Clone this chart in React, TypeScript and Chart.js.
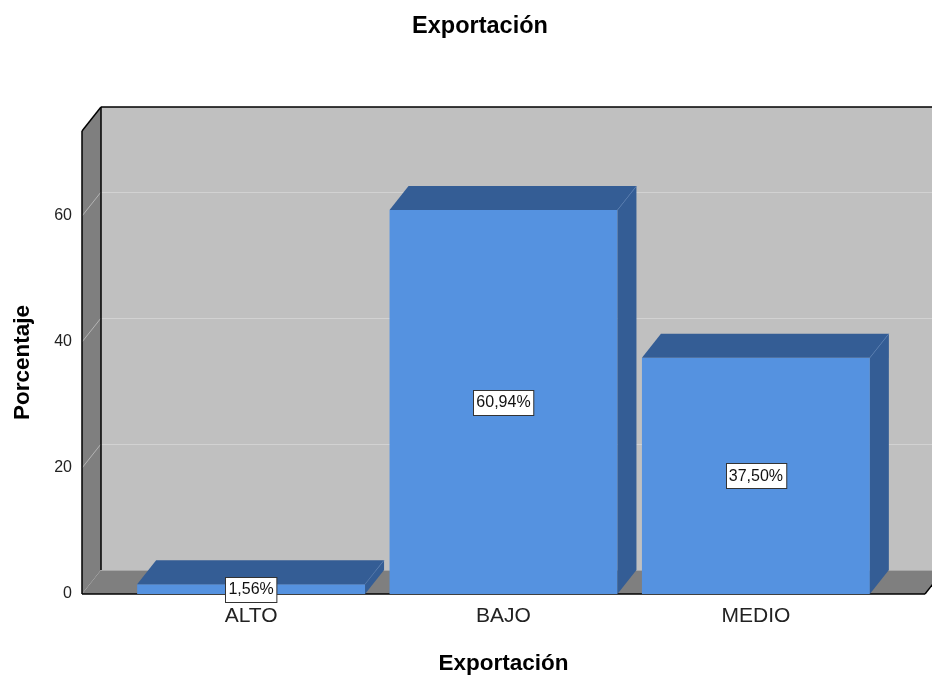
import React, { useEffect, useRef } from 'react';
import { Chart, registerables } from 'chart.js';

Chart.register(...registerables);

// Data
const categories = ['ALTO', 'BAJO', 'MEDIO'];
const percentages = [1.56, 60.94, 37.5];
const yTickValues = [0, 20, 40, 60];
const yMax = 73.5;
const xMin = -0.67;
const xMax = 2.67;

const FONT = '"Liberation Sans", Arial, Helvetica, sans-serif';

// 3D box depth offsets (px)
const DEPTH_X = 19;
const DEPTH_Y = 24;

const COLORS = {
  barFront: '#5592e0',
  barDark: '#345d95',
  backWall: '#c0c0c0',
  sideWall: '#7f7f7f',
  grid: '#d2d2d2',
  sideGrid: '#b4b4b4',
  edge: '#000000',
};

const formatPct = (v: number) => v.toFixed(2).replace('.', ',') + '%';

const line = (ctx: CanvasRenderingContext2D, x1: number, y1: number, x2: number, y2: number) => {
  ctx.beginPath();
  ctx.moveTo(x1, y1);
  ctx.lineTo(x2, y2);
  ctx.stroke();
};

const poly = (ctx: CanvasRenderingContext2D, pts: number[][], fill: string) => {
  ctx.beginPath();
  ctx.moveTo(pts[0][0], pts[0][1]);
  for (let i = 1; i < pts.length; i++) ctx.lineTo(pts[i][0], pts[i][1]);
  ctx.closePath();
  ctx.fillStyle = fill;
  ctx.fill();
};

// Draws the walls and floor behind the bars, then the bars' top/side faces and value labels.
const boxPlugin = {
  id: 'box3d',
  beforeDatasetsDraw(chart: any) {
    const { ctx, chartArea, scales } = chart;
    const { left: L, right: R, top: T, bottom: B } = chartArea;
    const dx = DEPTH_X;
    const dy = DEPTH_Y;
    ctx.save();

    // back wall
    ctx.fillStyle = COLORS.backWall;
    ctx.fillRect(L + dx, T - dy, R - L, B - T);

    // grid lines on back wall
    ctx.lineWidth = 1;
    yTickValues.forEach((v) => {
      if (v === 0) return;
      const py = Math.round(scales.y.getPixelForValue(v)) + 0.5;
      ctx.strokeStyle = COLORS.grid;
      line(ctx, L + dx, py - dy, R + dx, py - dy);
    });

    // side wall with slanted tick marks
    poly(ctx, [[L, T], [L + dx, T - dy], [L + dx, B - dy], [L, B]], COLORS.sideWall);
    yTickValues.forEach((v) => {
      if (v === 0) return;
      const py = scales.y.getPixelForValue(v);
      ctx.strokeStyle = COLORS.sideGrid;
      line(ctx, L, py, L + dx, py - dy);
    });

    // floor
    poly(ctx, [[L, B], [R, B], [R + dx, B - dy], [L + dx, B - dy]], COLORS.sideWall);
    ctx.strokeStyle = '#a8a8a8';
    line(ctx, L + dx, B - dy + 0.5, R + dx, B - dy + 0.5);

    // edges
    ctx.strokeStyle = COLORS.edge;
    ctx.lineWidth = 1.5;
    line(ctx, L + dx, T - dy, R + dx + 2, T - dy);
    line(ctx, L + dx, T - dy, L + dx, B - dy);
    line(ctx, L, T, L + dx, T - dy);
    line(ctx, L, T, L, B);
    line(ctx, L, B, R, B);
    line(ctx, R, B, R + dx, B - dy);
    ctx.restore();
  },
  afterDatasetsDraw(chart: any) {
    const { ctx } = chart;
    const meta = chart.getDatasetMeta(0);
    const dx = DEPTH_X;
    const dy = DEPTH_Y;
    ctx.save();
    meta.data.forEach((bar: any) => {
      const { x, y, base, width } = bar.getProps(['x', 'y', 'base', 'width'], true);
      const l = x - width / 2;
      const r = x + width / 2;
      // top face
      poly(ctx, [[l, y], [l + dx, y - dy], [r + dx, y - dy], [r, y]], COLORS.barDark);
      // right side face
      poly(ctx, [[r, y], [r + dx, y - dy], [r + dx, base - dy], [r, base]], COLORS.barDark);
      ctx.strokeStyle = 'rgba(90,130,185,0.6)';
      ctx.lineWidth = 1;
      line(ctx, r, y, r + dx, y - dy);
    });

    // value labels
    ctx.font = `16px ${FONT}`;
    ctx.textAlign = 'center';
    ctx.textBaseline = 'middle';
    meta.data.forEach((bar: any, i: number) => {
      const { x, y, base } = bar.getProps(['x', 'y', 'base'], true);
      const text = formatPct(percentages[i]);
      const cy = (y + base) / 2;
      const w = ctx.measureText(text).width + 6;
      const h = 25;
      const bx = Math.round(x - w / 2) + 0.5;
      const by = Math.round(cy - h / 2) + 0.5;
      ctx.fillStyle = '#ffffff';
      ctx.fillRect(bx, by, w, h);
      ctx.strokeStyle = '#333333';
      ctx.lineWidth = 1;
      ctx.strokeRect(bx, by, w, h);
      ctx.fillStyle = '#111111';
      ctx.fillText(text, x, cy + 1);
    });
    ctx.restore();
  },
  afterDraw(chart: any) {
    const { ctx } = chart;
    ctx.save();
    ctx.font = `bold 23.5px ${FONT}`;
    ctx.fillStyle = '#000000';
    ctx.textAlign = 'center';
    ctx.textBaseline = 'middle';
    ctx.fillText('Exportación', 480, 27);
    ctx.restore();
  },
};

export default function App() {
  const canvasRef = useRef<HTMLCanvasElement | null>(null);

  useEffect(() => {
    if (!canvasRef.current) return;
    Chart.defaults.font.family = FONT;

    const chart = new Chart(canvasRef.current, {
      type: 'bar',
      data: {
        datasets: [
          {
            label: 'Porcentaje',
            data: categories.map((_, i) => ({ x: i, y: percentages[i] })),
            backgroundColor: COLORS.barFront,
            borderWidth: 0,
            categoryPercentage: 1,
            barPercentage: 0.903,
          },
        ],
      },
      options: {
        responsive: false,
        animation: false,
        devicePixelRatio: 1,
        layout: { padding: { top: 131, right: 7, bottom: 0, left: 0 } },
        plugins: {
          legend: { display: false },
          tooltip: { enabled: false },
          title: { display: false },
        },
        scales: {
          x: {
            type: 'linear',
            min: xMin,
            max: xMax,
            offset: false,
            bounds: 'data',
            afterBuildTicks: (axis: any) => {
              axis.ticks = categories.map((_, i) => ({ value: i }));
            },
            afterFit: (axis: any) => {
              axis.height = 84;
            },
            grid: { display: false, drawTicks: false, offset: false },
            border: { display: false },
            ticks: {
              autoSkip: false,
              maxRotation: 0,
              padding: 10,
              color: '#222222',
              font: { size: 21 },
              callback: (v: any) => categories[v as number] ?? '',
            },
            title: {
              display: true,
              text: 'Exportación',
              color: '#000000',
              font: { size: 22.5, weight: 'bold' },
              padding: { top: 0, bottom: 1 },
            },
          },
          y: {
            min: 0,
            max: yMax,
            afterBuildTicks: (axis: any) => {
              axis.ticks = yTickValues.map((value) => ({ value }));
            },
            afterFit: (axis: any) => {
              axis.width = 82;
            },
            grid: { display: false, drawTicks: false },
            border: { display: false },
            ticks: {
              padding: 10,
              color: '#222222',
              font: { size: 16 },
            },
            title: {
              display: true,
              text: 'Porcentaje',
              color: '#000000',
              font: { size: 22.5, weight: 'bold' },
              padding: { top: 9, bottom: 0 },
            },
          },
        },
      },
      plugins: [boxPlugin],
    } as any);

    return () => chart.destroy();
  }, []);

  return (
    <div style={{ position: 'fixed', left: 0, top: 0, width: 932, height: 678, background: '#ffffff' }}>
      <canvas ref={canvasRef} width={932} height={678} style={{ display: 'block' }} />
    </div>
  );
}
